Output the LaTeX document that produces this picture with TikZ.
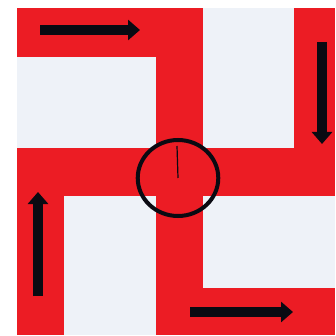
\documentclass[tikz,border=0pt]{standalone}
\usepackage{xcolor}
\usepackage{tikz}
\usetikzlibrary{arrows.meta,positioning}
\definecolor{flagred}{HTML}{EC1C24}
\definecolor{paleblue}{HTML}{EEF2F8}
\definecolor{inkblack}{HTML}{0A0A12}
\tikzset{
  voidblock/.style={
    fill=#1, draw=none
  },
  voidblock/.default=paleblue,
  turnarrow/.style={
    -{Triangle[length=12pt,width=20pt]}, line width=10pt, color=#1
  },
  turnarrow/.default=inkblack,
  hubring/.style={
    circle, draw=inkblack, line width=4pt, inner sep=0pt,
    minimum width=76pt, minimum height=76pt, xscale=1.06
  },
}

\begin{document}
\begin{tikzpicture}[x=1pt,y=-1pt]
  \useasboundingbox (0,0) rectangle (335,336);
  % Red field
  \fill[flagred] (17,8) rectangle (335,335);
  % Pale openings
  \fill[voidblock] (17,57) rectangle (156,148);
  \fill[voidblock] (203,8) rectangle (294,148);
  \fill[voidblock] (64,196) rectangle (156,335);
  \fill[voidblock] (203,196) rectangle (335,288);

  % Hub with needle
  \node[hubring] (hub) at (178,178) {};
  \coordinate (tip) at (177,146);
  \draw[inkblack, line width=1.2pt] (hub.center) -- (tip);

  % Turning arrows
  \coordinate (ta) at (40,30);  \coordinate (tb) at (140,30);
  \coordinate (ra) at (322,42); \coordinate (rb) at (322,144);
  \coordinate (ba) at (190,312); \coordinate (bb) at (293,312);
  \coordinate (la) at (38,296); \coordinate (lb) at (38,192);
  \draw[turnarrow] (ta) -- (tb);
  \draw[turnarrow] (ra) -- (rb);
  \draw[turnarrow] (ba) -- (bb);
  \draw[turnarrow] (la) -- (lb);
\end{tikzpicture}
\end{document}
